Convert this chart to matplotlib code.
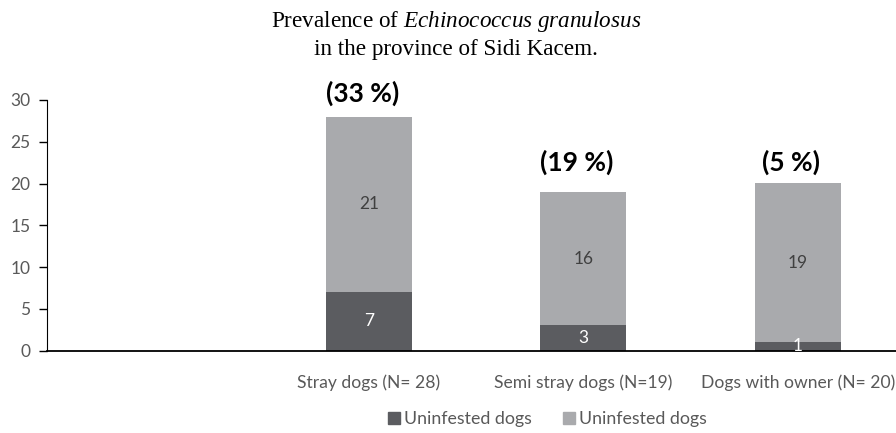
import matplotlib
matplotlib.use("Agg")
import matplotlib.pyplot as plt
from matplotlib.lines import Line2D

categories = ["", "Stray dogs (N= 28)", "Semi stray dogs (N=19)", "Dogs with owner (N= 20)"]
infested = [0, 7, 3, 1]
uninfested = [0, 21, 16, 19]
percent_labels = ["", "(33 %)", "(19 %)", "(5 %)"]
percent_y = [0, 30.8, 22.5, 22.5]
legend_labels = ["Uninfested dogs", "Uninfested dogs"]

dark = "#5b5c60"
light = "#a9aaad"
txt = "#595959"
sans = ["Lato", "DejaVu Sans"]

plt.rcParams['mathtext.fontset'] = 'custom'
plt.rcParams['mathtext.rm'] = 'Liberation Serif'
plt.rcParams['mathtext.it'] = 'Liberation Serif:italic'

fig = plt.figure(figsize=(8.96, 4.33), dpi=100)
W, H = 896, 433
left, right = 47, 905
bottom, top = 350.5, 100
ax = fig.add_axes([left / W, (H - bottom) / H, (right - left) / W, (bottom - top) / H])

x = list(range(len(categories)))
ax.bar(x, infested, width=0.4, color=dark, zorder=2)
ax.bar(x, uninfested, width=0.4, bottom=infested, color=light, zorder=2)

for i in x:
    if infested[i] + uninfested[i] == 0:
        continue
    ax.text(i, infested[i] / 2, str(infested[i]), ha="center", va="center",
            color="white", fontsize=12.5, family=sans)
    ax.text(i, infested[i] + uninfested[i] / 2, str(uninfested[i]), ha="center", va="center",
            color="#404040", fontsize=12.5, family=sans)
    ax.text(i - 0.03, percent_y[i], percent_labels[i], ha="center", va="center",
            color="black", fontsize=19, fontweight="bold", family=sans)

ax.set_xlim(-0.5, 3.5)
ax.set_ylim(0, 30)
ax.set_yticks(range(0, 31, 5))
ax.set_xticks(x)
ax.set_xticklabels(categories, family=sans, fontsize=12.6, color=txt)
ax.tick_params(axis="x", length=0, pad=17)
ax.tick_params(axis="y", length=6, width=1, colors="black", labelcolor=txt, labelsize=12.5, pad=6)
for lab in ax.get_yticklabels():
    lab.set_family(sans)
for s in ["top", "right"]:
    ax.spines[s].set_visible(False)
ax.spines["left"].set_color("black")
ax.spines["bottom"].set_color("black")
ax.spines["bottom"].set_linewidth(1.3)

fig.text(456 / W, 1 - 22 / H, r"Prevalence of $\it{Echinococcus\ granulosus}$",
         ha="center", va="center", fontsize=16.7, family="Liberation Serif")
fig.text(456 / W, 1 - 49 / H, "in the province of Sidi Kacem.",
         ha="center", va="center", fontsize=16.7, family="Liberation Serif")

handles = [Line2D([], [], marker="s", linestyle="none", color=dark, markersize=9),
           Line2D([], [], marker="s", linestyle="none", color=light, markersize=9)]
fig.legend(handles, legend_labels, loc="center", bbox_to_anchor=(546 / W, 1 - 419 / H),
           ncol=2, frameon=False, prop={"family": sans, "size": 12.8},
           labelcolor=txt, handletextpad=0.05, columnspacing=1.6, handlelength=1)

fig.savefig("out.png", dpi=100)
